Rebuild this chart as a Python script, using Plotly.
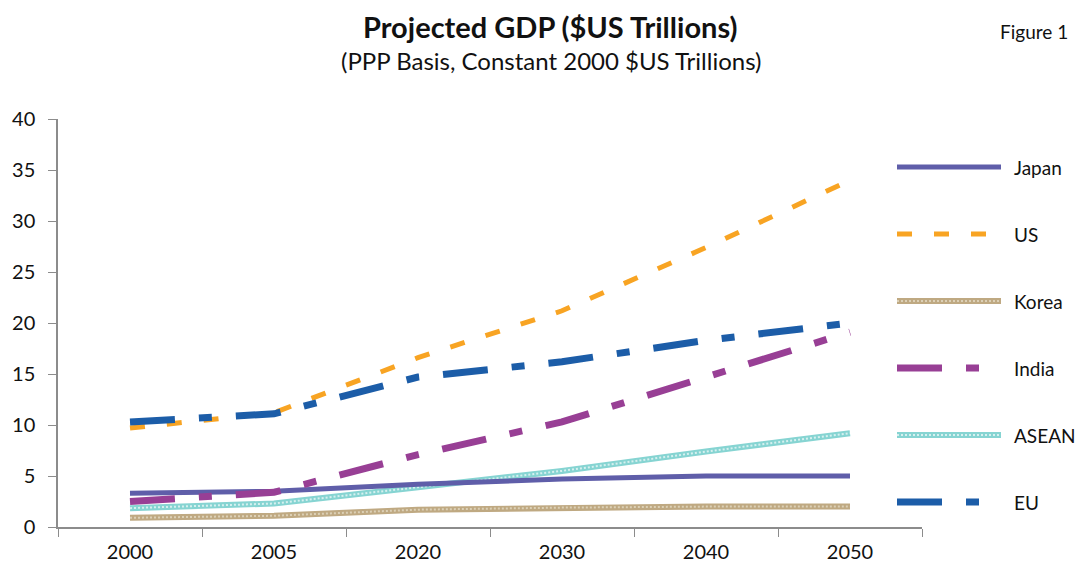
import plotly.graph_objects as go

# Projected GDP, PPP basis, constant 2000 $US trillions
years = ["2000", "2005", "2020", "2030", "2040", "2050"]
japan = [3.3, 3.5, 4.2, 4.7, 5.0, 5.0]
us = [9.7, 11.2, 16.6, 21.2, 27.4, 34.0]
korea = [0.9, 1.1, 1.7, 1.9, 2.0, 2.0]
india = [2.5, 3.4, 7.1, 10.3, 14.7, 19.1]
asean = [1.85, 2.3, 3.9, 5.5, 7.4, 9.2]
eu = [10.3, 11.1, 14.7, 16.2, 18.3, 20.0]

series_names = ["Japan", "US", "Korea", "India", "ASEAN", "EU"]

FONT = "Lato, sans-serif"
TEXT = "#111111"

# Line styles: colour, width, dash, and an optional texture overlay colour
styles = {
    "Japan": dict(color="#5F5EA9", width=5, dash="solid", overlay=None),
    "US": dict(color="#F8A423", width=5, dash="15px,22px", overlay=None),
    "Korea": dict(color="#BFA982", width=6, dash="solid", overlay="#DCD0B6"),
    "India": dict(color="#983F95", width=7, dash="45px,24px,13px,24px", overlay=None),
    "ASEAN": dict(color="#86D4D2", width=6, dash="solid", overlay="#D6F0EF"),
    "EU": dict(color="#1C5DA8", width=7, dash="45px,24px,13px,24px", overlay=None),
}
values = {"Japan": japan, "US": us, "Korea": korea, "India": india,
          "ASEAN": asean, "EU": eu}

W, H = 1081, 563
ml, mr, mt, mb = 58, 10, 119, 36
pw = W - ml - mr
ph = H - mt - mb


def px_to_paper(x, y):
    """Pixel position on the page -> paper coordinates."""
    return (x - ml) / pw, (H - mb - y) / ph


fig = go.Figure()

# Draw order: textured/flat series first, dashed series on top
draw_order = ["Korea", "ASEAN", "Japan", "India", "US", "EU"]
for name in draw_order:
    st = styles[name]
    fig.add_trace(go.Scatter(
        x=years, y=values[name], mode="lines", name=name,
        line=dict(color=st["color"], width=st["width"], dash=st["dash"]),
        showlegend=False, hoverinfo="skip"))
    if st["overlay"]:
        fig.add_trace(go.Scatter(
            x=years, y=values[name], mode="lines",
            line=dict(color=st["overlay"], width=2, dash="2px,2px"),
            showlegend=False, hoverinfo="skip"))

# Legend: sample lines on a small side axis, labels as text
leg_y0, leg_step = 167, 67
for i, name in enumerate(series_names):
    st = styles[name]
    fig.add_trace(go.Scatter(
        x=[0, 1], y=[i, i], mode="lines", xaxis="x2", yaxis="y2",
        line=dict(color=st["color"], width=st["width"], dash=st["dash"]),
        showlegend=False, hoverinfo="skip"))
    if st["overlay"]:
        fig.add_trace(go.Scatter(
            x=[0, 1], y=[i, i], mode="lines", xaxis="x2", yaxis="y2",
            line=dict(color=st["overlay"], width=2, dash="2px,2px"),
            showlegend=False, hoverinfo="skip"))
    lx, ly = px_to_paper(1012, leg_y0 + leg_step * i)
    fig.add_annotation(
        x=lx, y=ly, xref="paper", yref="paper", text=name, showarrow=False,
        xanchor="left", yanchor="middle",
        font=dict(family=FONT, size=19, color=TEXT))

main_right = (922 - ml) / pw
leg_l = (897 - ml) / pw
leg_r = (1001 - ml) / pw
# y2 range chosen so that item i sits at pixel row leg_y0 + leg_step*i
f0 = (H - mb - leg_y0) / ph
slope = -leg_step / ph
span = 1 / slope
r0 = -f0 * span
r1 = r0 + span

fig.update_layout(
    width=W, height=H,
    margin=dict(l=ml, r=mr, t=mt, b=mb, autoexpand=False),
    paper_bgcolor="white", plot_bgcolor="white",
    font=dict(family=FONT, size=18, color=TEXT),
    xaxis=dict(
        domain=[0, main_right], type="category", range=[-0.5, 5.5],
        tickson="boundaries", ticks="outside", ticklen=8, tickcolor="#8c8c8c",
        showline=True, linecolor="#8c8c8c", linewidth=1.5, automargin=False,
        showgrid=False, zeroline=False, ticklabelstandoff=6,
        tickfont=dict(family=FONT, size=20, color=TEXT)),
    yaxis=dict(
        range=[0, 40], dtick=5, ticks="outside", ticklen=8,
        tickcolor="#8c8c8c", showline=True, linecolor="#8c8c8c",
        linewidth=1.5, showgrid=False, zeroline=False, ticklabelstandoff=9,
        automargin=False,
        tickfont=dict(family=FONT, size=20, color=TEXT)),
    xaxis2=dict(domain=[leg_l, leg_r], range=[0, 1], visible=False,
                anchor="y2"),
    yaxis2=dict(domain=[0, 1], range=[r0, r1], visible=False,
                anchor="x2"),
    showlegend=False,
)

# Titles
for text, cx, cy, size in [
    ("<b>Projected GDP ($US Trillions)</b>", 550, 27, 29),
    ("(PPP Basis, Constant 2000 $US Trillions)", 551, 60, 24),
    ("Figure 1", 1034, 31, 19),
]:
    ax, ay = px_to_paper(cx, cy)
    fig.add_annotation(
        x=ax, y=ay, xref="paper", yref="paper", showarrow=False, text=text,
        xanchor="center", yanchor="middle",
        font=dict(family=FONT, size=size, color=TEXT))

fig.write_html("out.html")
